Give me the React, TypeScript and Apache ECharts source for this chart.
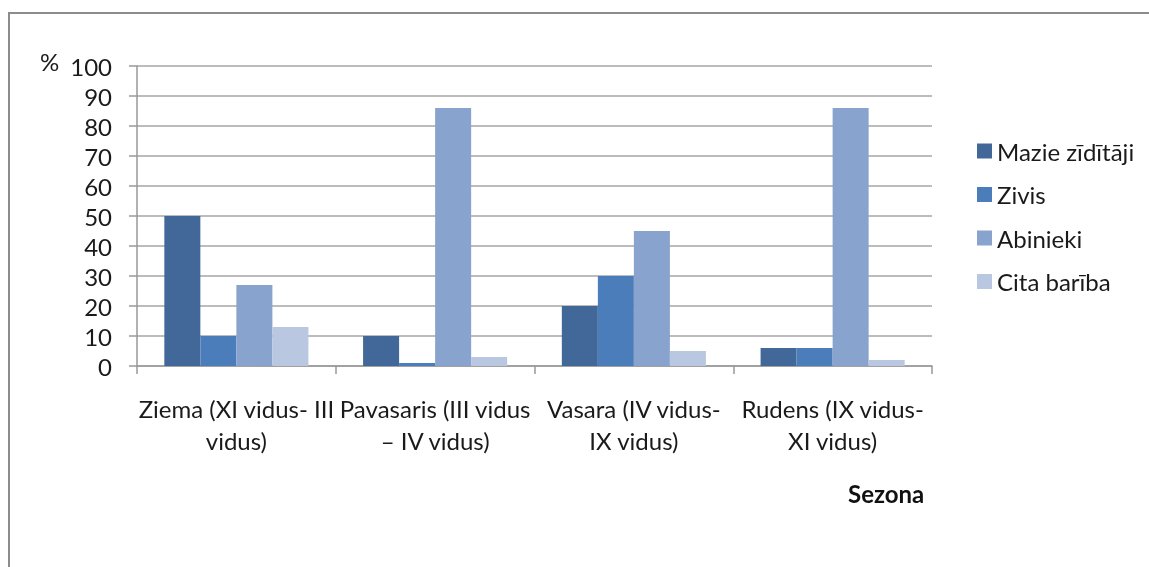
import React, { useEffect, useRef } from "react";
import * as echarts from "echarts";

const categories = [
  "Ziema (XI vidus- III\nvidus)",
  "Pavasaris (III vidus\n– IV vidus)",
  "Vasara (IV vidus-\nIX vidus)",
  "Rudens (IX vidus-\nXI vidus)",
];
const seriesNames = ["Mazie zīdītāji", "Zivis", "Abinieki", "Cita barība"];
const mazie = [50, 10, 20, 6];
const zivis = [10, 1, 30, 6];
const abinieki = [27, 86, 45, 86];
const cita = [13, 3, 5, 2];
const colors = ["#426899", "#4B7DBA", "#88A3CD", "#B9C7E1"];

const FONT = "Lato, 'Open Sans', sans-serif";
const FS = 24;

export default function App() {
  const ref = useRef<HTMLDivElement>(null);
  useEffect(() => {
    if (!ref.current) return;
    const chart = echarts.init(ref.current, undefined, { renderer: "svg" });
    const values = [mazie, zivis, abinieki, cita];
    chart.setOption({
      animation: false,
      textStyle: { fontFamily: FONT },
      grid: { left: 137, right: 217, top: 66, bottom: 201 },
      legend: {
        orient: "vertical",
        left: 972,
        top: 134,
        itemWidth: 15,
        itemHeight: 15,
        itemGap: 19.5,
        icon: "rect",
        textStyle: { fontFamily: FONT, fontSize: FS, color: "#1a1a1a" },
        data: seriesNames,
      },
      xAxis: {
        type: "category",
        data: categories,
        axisLine: { lineStyle: { color: "#999", width: 1.5 } },
        axisTick: { show: true, length: 8, lineStyle: { color: "#999", width: 1.5 } },
        axisLabel: {
          interval: 0,
          fontFamily: FONT,
          fontSize: FS,
          color: "#1a1a1a",
          margin: 26,
          lineHeight: 32,
        },
      },
      yAxis: {
        type: "value",
        min: 0,
        max: 100,
        interval: 10,
        axisLine: { show: true, lineStyle: { color: "#999", width: 1.5 } },
        axisTick: { show: true, length: 8, lineStyle: { color: "#999", width: 1.5 } },
        splitLine: { lineStyle: { color: "#a6a6a6", width: 1.5 } },
        axisLabel: { fontFamily: FONT, fontSize: FS, color: "#1a1a1a", margin: 25 },
      },
      graphic: [
        {
          type: "rect",
          shape: { x: 9, y: 13, width: 1200, height: 620 },
          style: { fill: "none", stroke: "#8c8c8c", lineWidth: 2 },
          silent: true,
        },
        {
          type: "text",
          left: 40,
          top: 49,
          style: { text: "%", font: `${FS}px ${FONT}`, fill: "#1a1a1a" },
        },
        {
          type: "text",
          left: 848,
          top: 481,
          style: { text: "Sezona", font: `bold ${FS}px ${FONT}`, fill: "#111" },
        },
      ],
      series: seriesNames.map((name, i) => ({
        name,
        type: "bar",
        data: values[i],
        barGap: "0%",
        barCategoryGap: "27.5%",
        itemStyle: { color: colors[i] },
      })),
    });
    return () => chart.dispose();
  }, []);
  return (
    <div
      ref={ref}
      style={{ position: "fixed", left: 0, top: 0, width: 1149, height: 567 }}
    />
  );
}
